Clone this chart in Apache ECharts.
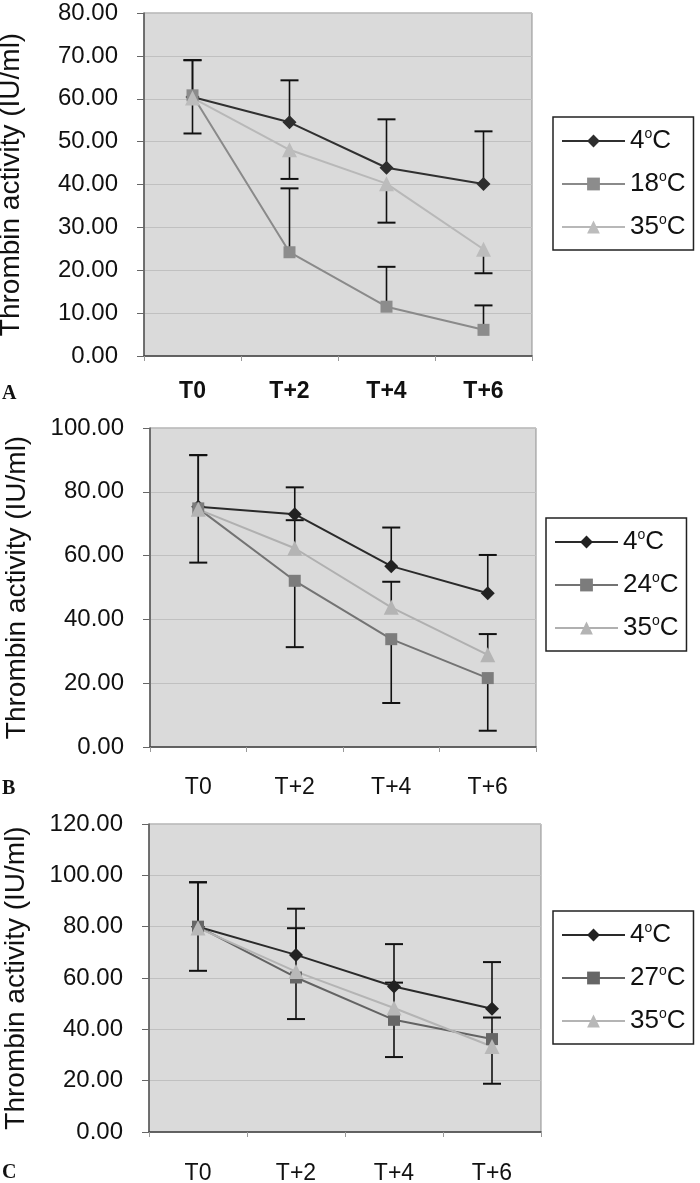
<!DOCTYPE html>
<html>
<head>
<meta charset="utf-8">
<script src="https://cdn.jsdelivr.net/npm/echarts@6/dist/echarts.min.js"></script>
<style>
  html, body { margin: 0; padding: 0; background: #fff; }
  #chart { width: 700px; height: 1183px; }
</style>
</head>
<body>
<div id="chart"></div>
<script>
// x categories (sampling times)
const categories = ['T0', 'T+2', 'T+4', 'T+6'];

// Panel A : 4, 18, 35 C
const tempsA = ['4', '18', '35'];
const meanA4 = [60.4, 54.5, 43.9, 40.1];
const meanA18 = [60.8, 24.2, 11.5, 6.1];
const meanA35 = [60.2, 48.1, 40.2, 24.9];
const errA4 = [8.6, 9.8, 11.3, 12.3];   // up
const errA18 = [8.2, 14.9, 9.3, 5.7];   // up
const errA35 = [8.3, 6.8, 9.1, 5.6];    // down

// Panel B : 4, 24, 35 C
const tempsB = ['4', '24', '35'];
const meanB4 = [75.3, 73.0, 56.7, 48.2];
const meanB24 = [74.8, 52.1, 33.8, 21.6];
const meanB35 = [74.5, 62.3, 43.8, 28.9];
const errB4 = [16.2, 8.4, 12.1, 12.0];   // up
const errB24 = [17.0, 20.8, 20.0, 16.5]; // down
const errB35 = [17.0, 8.8, 8.0, 6.5];    // up

// Panel C : 4, 27, 35 C
const tempsC = ['4', '27', '35'];
const meanC4 = [80.0, 69.0, 56.7, 48.0];
const meanC27 = [80.0, 60.2, 43.7, 36.2];
const meanC35 = [79.5, 62.5, 48.3, 33.3];
const errC4 = [17.3, 18.0, 16.5, 18.2];  // up
const errC27 = [17.2, 16.2, 14.5, 17.4]; // down
const errC35 = [17.8, 16.9, 9.9, 11.3];  // up

// y axis max / step
const yMax = [80, 100, 120];
const yStep = [10, 20, 20];

const panels = [
  { letter: 'A', temps: tempsA, means: [meanA4, meanA18, meanA35], errs: [errA4, errA18, errA35], dirs: [1, 1, -1],
    grid: { left: 144, top: 13, width: 388, height: 343 }, legendTop: 117, legendLeft: 553, boldX: true, letterY: 394, xMargin: 24,
    colors: ['#2e2e2e', '#8c8c8c', '#bcbcbc'], lineColors: ['#303030', '#8a8a8a', '#b8b8b8'] },
  { letter: 'B', temps: tempsB, means: [meanB4, meanB24, meanB35], errs: [errB4, errB24, errB35], dirs: [1, -1, 1],
    grid: { left: 150, top: 428, width: 386, height: 319 }, legendTop: 518, legendLeft: 546, boldX: false, letterY: 789, xMargin: 29,
    colors: ['#222222', '#7c7c7c', '#b4b4b4'], lineColors: ['#2a2a2a', '#737373', '#b0b0b0'] },
  { letter: 'C', temps: tempsC, means: [meanC4, meanC27, meanC35], errs: [errC4, errC27, errC35], dirs: [1, -1, 1],
    grid: { left: 149, top: 824, width: 392, height: 308 }, legendTop: 911, legendLeft: 553, boldX: false, letterY: 1173, xMargin: 30,
    colors: ['#222222', '#666666', '#b8b8b8'], lineColors: ['#2a2a2a', '#636363', '#b4b4b4'] }
];

const symbols = ['diamond', 'rect', 'triangle'];
const symbolSizes = [14, 12, 15];

const chart = echarts.init(document.getElementById('chart'));

function errBar(params, api) {
  const x = api.value(0);
  const from = api.coord([x, api.value(1)]);
  const to = api.coord([x, api.value(2)]);
  const w = 9;
  return {
    type: 'group',
    children: [
      { type: 'line', shape: { x1: from[0], y1: from[1], x2: to[0], y2: to[1] }, style: { stroke: '#111', lineWidth: 1.6 } },
      { type: 'line', shape: { x1: to[0] - w, y1: to[1], x2: to[0] + w, y2: to[1] }, style: { stroke: '#111', lineWidth: 2 } }
    ]
  };
}

const grids = [], xAxes = [], yAxes = [], series = [], legends = [], graphics = [];

panels.forEach((p, i) => {
  grids.push(Object.assign({
    show: true, backgroundColor: '#dadada', borderColor: '#8f8f8f', borderWidth: 1,
    outerBoundsMode: 'none', containLabel: false
  }, p.grid));

  xAxes.push({
    type: 'category', gridIndex: i, data: categories, boundaryGap: true,
    axisLine: { lineStyle: { color: '#444', width: 1.5 } },
    axisTick: { show: true, length: 5, lineStyle: { color: '#999' } },
    axisLabel: { margin: p.xMargin, color: '#111', fontSize: 23, fontFamily: 'Liberation Sans',
      fontWeight: p.boldX ? 'bold' : 'normal' },
    splitLine: { show: false }
  });

  yAxes.push({
    type: 'value', gridIndex: i, min: 0, max: yMax[i], interval: yStep[i],
    name: 'Thrombin activity (IU/ml)', nameLocation: 'middle', nameRotate: 90, nameGap: 119,
    nameTextStyle: { fontSize: 28, color: '#111', fontFamily: 'Liberation Sans' },
    axisLine: { show: true, lineStyle: { color: '#555', width: 1.5 } },
    axisTick: { show: true, length: 7, lineStyle: { color: '#666' } },
    axisLabel: { margin: 26, color: '#111', fontSize: 24, fontFamily: 'Liberation Sans',
      formatter: v => v.toFixed(2) },
    splitLine: { show: true, lineStyle: { color: '#c0c0c0', width: 1 } }
  });

  const names = [];
  p.temps.forEach((t, k) => {
    const name = p.letter + '_' + t;
    names.push(name);
    const errData = p.means[k].map((m, j) => [j, m, m + p.dirs[k] * p.errs[k][j]]);
    series.push({
      type: 'custom', xAxisIndex: i, yAxisIndex: i, z: 1, silent: true,
      renderItem: errBar, data: errData
    });
    series.push({
      name: name, type: 'line', xAxisIndex: i, yAxisIndex: i, z: 3,
      data: p.means[k], symbol: symbols[k], symbolSize: symbolSizes[k],
      lineStyle: { color: p.lineColors[k], width: 2 },
      itemStyle: { color: p.colors[k] }
    });
  });

  legends.push({
    data: names, orient: 'vertical', left: p.legendLeft, top: p.legendTop,
    itemWidth: 63, itemHeight: 16, itemGap: 16,
    padding: [10, 8, 10, 8],
    borderColor: '#222', borderWidth: 1.5, backgroundColor: '#fff',
    formatter: n => '{n|' + n.split('_')[1] + '}{s|o}{n|C}',
    textStyle: {
      rich: {
        n: { fontSize: 26, fontFamily: 'Liberation Sans', color: '#111', lineHeight: 28 },
        s: { fontSize: 14, fontFamily: 'Liberation Sans', color: '#111', verticalAlign: 'top', lineHeight: 22 }
      }
    }
  });

  graphics.push({
    type: 'text', left: 2, top: p.letterY - 10,
    style: { text: p.letter, fontSize: 20, fontWeight: 'bold', fontFamily: 'Liberation Serif', fill: '#111' }
  });
});

chart.setOption({
  animation: false,
  backgroundColor: '#fff',
  grid: grids,
  xAxis: xAxes,
  yAxis: yAxes,
  legend: legends,
  graphic: graphics,
  series: series
});
</script>
</body>
</html>
